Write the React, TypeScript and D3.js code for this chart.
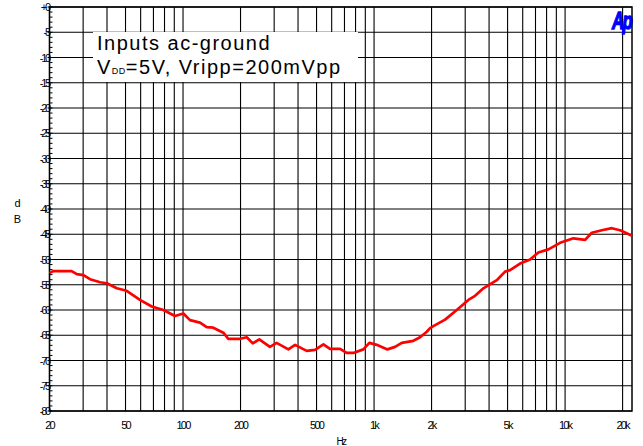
import React from "react";
import * as d3 from "d3";

const freqs = [20, 20.9, 26.1, 27.8, 30.1, 32.6, 36.8, 39.9, 45, 50.7, 59.5, 68.6, 78.9, 90.8, 100.4, 108.8, 122.7, 133, 144, 162.6, 172.6, 198.8, 215.6, 231.8, 250.8, 285, 309, 356, 386, 444, 491, 543, 588, 664, 719, 779, 879, 945, 1033, 1174, 1288, 1396, 1606, 1741, 1888, 1964, 2043, 2354, 2710, 3117, 3378, 3734, 4390, 4852, 5152, 5812, 6558, 7248, 8177, 9417, 11052, 12730, 13796, 15566, 17564, 19406, 22400];
const dbValues = [-52.7, -52.3, -52.3, -52.9, -53.1, -53.9, -54.5, -54.7, -55.7, -56.2, -58.0, -59.3, -60.0, -61.2, -60.7, -62.0, -62.5, -63.4, -63.5, -64.5, -65.7, -65.7, -65.4, -66.6, -65.8, -67.3, -66.5, -67.8, -66.9, -68.1, -67.9, -66.8, -67.7, -67.7, -68.5, -68.5, -67.8, -66.5, -66.9, -67.8, -67.3, -66.5, -66.1, -65.4, -64.3, -63.6, -63.2, -61.9, -60.0, -58.0, -57.2, -55.7, -54.1, -52.4, -52.1, -50.8, -50.0, -48.6, -48.0, -46.7, -45.8, -46.1, -44.7, -44.2, -43.8, -44.2, -45.3];

const xGridValues = [20, 30, 40, 50, 60, 70, 80, 90, 100, 200, 300, 400, 500, 600, 700, 800, 900, 1000, 2000, 3000, 4000, 5000, 6000, 7000, 8000, 9000, 10000, 20000];
const xTickValues = [20, 50, 100, 200, 500, 1000, 2000, 5000, 10000, 20000];
const xTickLabels = ["20", "50", "100", "200", "500", "1k", "2k", "5k", "10k", "20k"];
const yTickValues = [0, -5, -10, -15, -20, -25, -30, -35, -40, -45, -50, -55, -60, -65, -70, -75, -80];
const yTickLabels = ["+0", "-5", "-10", "-15", "-20", "-25", "-30", "-35", "-40", "-45", "-50", "-55", "-60", "-65", "-70", "-75", "-80"];
const yMinorValues = d3.range(0, -81, -1);

const legendLine1 = "Inputs ac-ground";
const legendV = "V";
const legendSub = "DD";
const legendRest = "=5V, Vripp=200mVpp";

export default function App() {
  const W = 643, H = 446;
  const left = 49.5, right = 632, top = 7, bottom = 411;
  const x = d3.scaleLog().domain([20, 22400]).range([left, right]);
  const y = d3.scaleLinear().domain([0, -80]).range([top, bottom]);
  const line = d3.line<number>().x((_, i) => x(freqs[i])).y((d) => y(d));
  const font = "'Liberation Sans', Arial, sans-serif";

  return (
    <svg width={W} height={H} style={{ position: "absolute", left: 0, top: 0, background: "#fff" }} fontFamily={font}>
      <rect x={0} y={0} width={W} height={H} fill="#fff" />
      {xGridValues.map((v) => (
        <line key={"gx" + v} x1={x(v)} x2={x(v)} y1={top} y2={bottom} stroke="#000" strokeWidth={1.1} />
      ))}
      {yTickValues.map((v) => (
        <line key={"gy" + v} x1={left} x2={right} y1={y(v)} y2={y(v)} stroke="#000" strokeWidth={1.1} />
      ))}
      {yMinorValues.map((v) => (
        <line key={"my" + v} x1={left} x2={left + 3} y1={y(v)} y2={y(v)} stroke="#000" strokeWidth={1} />
      ))}
      {yTickValues.map((v) => (
        <line key={"ty" + v} x1={left - 2} x2={left} y1={y(v)} y2={y(v)} stroke="#000" strokeWidth={1} />
      ))}
      <rect x={93} y={32} width={265} height={50} fill="#fff" />
      <text x={97} y={49.5} fontSize={20} letterSpacing={1.5} fill="#000">{legendLine1}</text>
      <text x={97} y={74} fontSize={20} letterSpacing={1.5} fill="#000">
        {legendV}
        <tspan fontSize={9} letterSpacing={0.5}>{legendSub}</tspan>
        <tspan>{legendRest}</tspan>
      </text>
      <rect x={left} y={top} width={right - left} height={bottom - top} fill="none" stroke="#000" strokeWidth={1.5} />
      <path d={line(dbValues) || ""} fill="none" stroke="#ff0000" strokeWidth={2.7} strokeLinejoin="round" />
      {yTickValues.map((v, i) => (
        <text key={"ly" + v} x={49} y={y(v) + 4} fontSize={11} textAnchor="end" letterSpacing={-2.2} fill="#000">
          {yTickLabels[i]}
        </text>
      ))}
      {xTickValues.map((v, i) => (
        <text key={"lx" + v} x={x(v)} y={429} fontSize={11} textAnchor="middle" letterSpacing={-1.8} fill="#000">
          {xTickLabels[i]}
        </text>
      ))}
      <text x={341} y={445} fontSize={10} textAnchor="middle" letterSpacing={-1.5} fill="#000">Hz</text>
      <text x={17.5} y={206.5} fontSize={11} textAnchor="middle" fill="#000">d</text>
      <text x={17.5} y={222.5} fontSize={11} textAnchor="middle" fill="#000">B</text>
      <g transform="translate(612,29) scale(0.8,1.1)">
        <text x={0} y={0} fontSize={21} fontWeight="bold" fontStyle="italic" letterSpacing={-2} fill="#0000ff" stroke="#0000ff" strokeWidth={1.2}>Ap</text>
      </g>
    </svg>
  );
}
